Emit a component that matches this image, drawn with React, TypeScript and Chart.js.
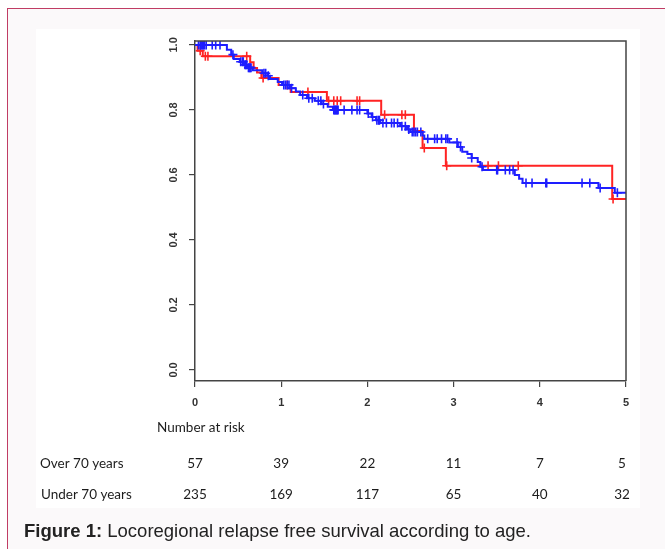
import React, { useEffect, useRef } from "react";
import { Chart, registerables } from "chart.js";

Chart.register(...registerables);

// ---- data ----
const timeTicks = [0, 1, 2, 3, 4, 5];
const survivalTicks = [0, 0.2, 0.4, 0.6, 0.8, 1.0];
const groupLabels = ["Over 70 years", "Under 70 years"];
const riskOver70 = [57, 39, 22, 11, 7, 5];
const riskUnder70 = [235, 169, 117, 65, 40, 32];

// Under 70 years (blue) Kaplan-Meier steps
const under70Times = [
  0, 0.37, 0.42, 0.45, 0.52, 0.57, 0.61, 0.67, 0.78, 0.84, 0.87, 0.96, 1.01, 1.1, 1.17, 1.22,
  1.3, 1.39, 1.47, 1.54, 1.6, 2.0, 2.05, 2.1, 2.15, 2.38, 2.46, 2.5, 2.64, 2.66, 2.95, 3.05,
  3.1, 3.16, 3.21, 3.28, 3.31, 3.34, 3.71, 3.76, 3.8, 4.68, 4.87, 5.0,
];
const under70Surv = [
  1.0, 0.985, 0.97, 0.957, 0.948, 0.939, 0.93, 0.922, 0.913, 0.905, 0.895, 0.886, 0.877, 0.867,
  0.857, 0.846, 0.836, 0.828, 0.818, 0.81, 0.8, 0.789, 0.778, 0.768, 0.76, 0.75, 0.74, 0.732,
  0.721, 0.711, 0.7, 0.686, 0.671, 0.664, 0.652, 0.64, 0.625, 0.615, 0.6, 0.588, 0.575, 0.56,
  0.545, 0.545,
];
const under70Censored = [
  0.04, 0.06, 0.07, 0.08, 0.09, 0.1, 0.11, 0.13, 0.2, 0.24, 0.29, 0.44, 0.53, 0.55, 0.56, 0.58,
  0.59, 0.6, 0.62, 0.63, 0.64, 0.65, 0.8, 0.82, 0.85, 1.03, 1.05, 1.07, 1.09, 1.12, 1.25, 1.32,
  1.36, 1.43, 1.46, 1.49, 1.61, 1.62, 1.63, 1.64, 1.65, 1.66, 1.73, 1.82, 1.88, 1.91, 2.01, 2.06,
  2.11, 2.13, 2.14, 2.18, 2.22, 2.28, 2.31, 2.35, 2.4, 2.44, 2.48, 2.52, 2.54, 2.56, 2.58, 2.62,
  2.7, 2.78, 2.81, 2.86, 2.91, 2.93, 3.04, 3.08, 3.21, 3.33, 3.5, 3.51, 3.6, 3.65, 3.69, 3.84,
  3.91, 4.07, 4.08, 4.49, 4.58, 4.7, 4.9,
];

// Over 70 years (red) Kaplan-Meier steps
const over70Times = [
  0, 0.03, 0.09, 0.64, 0.68, 0.72, 0.77, 0.97, 1.11, 1.53, 2.16, 2.54, 2.64, 2.91, 4.84, 5.0,
];
const over70Surv = [
  1.0, 0.982, 0.965, 0.947, 0.929, 0.915, 0.898, 0.877, 0.855, 0.828, 0.785, 0.735, 0.683, 0.628,
  0.526, 0.526,
];
const over70Censored = [
  0.06, 0.12, 0.15, 0.6, 0.79, 1.07, 1.31, 1.55, 1.61, 1.65, 1.69, 1.88, 1.91, 2.2, 2.4, 2.44,
  2.66, 2.92, 3.4, 3.52, 3.75, 4.85,
];

const BLUE = "rgb(30,30,255)";
const RED = "rgb(255,35,35)";

function survivalAt(times: number[], surv: number[], t: number) {
  let s = surv[0];
  for (let i = 0; i < times.length; i++) if (times[i] <= t) s = surv[i];
  return s;
}

export default function App() {
  const ref = useRef<HTMLCanvasElement>(null);

  useEffect(() => {
    const canvas = ref.current!;
    const textPlugin = {
      id: "kmText",
      afterDraw(chart: any) {
        const { ctx, chartArea, scales } = chart;
        const xs = scales.x;
        const ys = scales.y;
        ctx.save();
        // box (top & right)
        ctx.strokeStyle = "#444";
        ctx.lineWidth = 1.5;
        ctx.beginPath();
        ctx.moveTo(chartArea.left, chartArea.top);
        ctx.lineTo(chartArea.right, chartArea.top);
        ctx.lineTo(chartArea.right, chartArea.bottom);
        ctx.stroke();

        // rotated y tick labels
        ctx.fillStyle = "#333";
        ctx.font = 'bold 11px "Liberation Sans", Arial, sans-serif';
        ctx.textAlign = "center";
        ctx.textBaseline = "middle";
        survivalTicks.forEach((v) => {
          const py = ys.getPixelForValue(v);
          ctx.save();
          ctx.translate(chartArea.left - 21, py);
          ctx.rotate(-Math.PI / 2);
          ctx.fillText(v.toFixed(1), 0, 0);
          ctx.restore();
        });

        // number at risk table
        ctx.fillStyle = "#1c1c1c";
        ctx.font = '13.5px Lato, "Open Sans", sans-serif';
        ctx.textAlign = "left";
        ctx.fillText("Number at risk", chartArea.left - 38, chartArea.bottom + 47);
        const rowY = [chartArea.bottom + 83, chartArea.bottom + 114];
        ctx.fillText(groupLabels[0], 40, rowY[0]);
        ctx.fillText(groupLabels[1], 41, rowY[1]);
        ctx.textAlign = "center";
        timeTicks.forEach((t, i) => {
          const px = Math.min(xs.getPixelForValue(t), chartArea.right - 4);
          ctx.fillText(String(riskOver70[i]), px, rowY[0]);
          ctx.fillText(String(riskUnder70[i]), px, rowY[1]);
        });
        ctx.restore();
      },
    };

    const chart = new Chart(canvas, {
      type: "scatter",
      data: {
        datasets: [
          {
            label: "Under 70 years",
            data: under70Times.map((t, i) => ({ x: t, y: under70Surv[i] })),
            showLine: true,
            stepped: true,
            borderColor: BLUE,
            backgroundColor: BLUE,
            borderWidth: 2,
            pointRadius: 0,
            pointHoverRadius: 0,
          },
          {
            label: "Under 70 censored",
            data: under70Censored.map((t) => ({ x: t, y: survivalAt(under70Times, under70Surv, t) })),
            showLine: false,
            pointStyle: "cross",
            pointRadius: 4.5,
            pointBorderWidth: 1.6,
            borderColor: BLUE,
            backgroundColor: BLUE,
          },
          {
            label: "Over 70 years",
            data: over70Times.map((t, i) => ({ x: t, y: over70Surv[i] })),
            showLine: true,
            stepped: true,
            borderColor: RED,
            backgroundColor: RED,
            borderWidth: 2,
            pointRadius: 0,
            pointHoverRadius: 0,
          },
          {
            label: "Over 70 censored",
            data: over70Censored.map((t) => ({ x: t, y: survivalAt(over70Times, over70Surv, t) })),
            showLine: false,
            pointStyle: "cross",
            pointRadius: 4.5,
            pointBorderWidth: 1.6,
            borderColor: RED,
            backgroundColor: RED,
          },
        ],
      },
      options: {
        animation: false,
        responsive: false,
        maintainAspectRatio: false,
        layout: { padding: { left: 0, top: 41, right: 39, bottom: 0 } },
        plugins: { legend: { display: false }, tooltip: { enabled: false } },
        scales: {
          x: {
            type: "linear",
            min: 0,
            max: 5,
            afterBuildTicks: (s: any) => {
              s.ticks = timeTicks.map((v) => ({ value: v }));
            },
            afterFit: (s: any) => {
              s.height = 168;
            },
            grid: {
              drawOnChartArea: false,
              drawTicks: true,
              tickLength: 6,
              color: "#444",
              tickColor: "#444",
              lineWidth: 1.2,
            },
            border: { display: true, color: "#444", width: 1.5 },
            ticks: {
              color: "#333",
              padding: 9,
              maxRotation: 0,
              font: { family: '"Liberation Sans", Arial, sans-serif', size: 11, weight: "bold" },
              callback: (v: any) => String(v),
            },
          },
          y: {
            type: "linear",
            min: -0.034,
            max: 1.012,
            afterBuildTicks: (s: any) => {
              s.ticks = survivalTicks.map((v) => ({ value: v }));
            },
            afterFit: (s: any) => {
              s.width = 195;
            },
            grid: {
              drawOnChartArea: false,
              drawTicks: true,
              tickLength: 6,
              color: "#444",
              tickColor: "#444",
              lineWidth: 1.2,
            },
            border: { display: true, color: "#444", width: 1.5 },
            ticks: { display: false },
          },
        },
      },
      plugins: [textPlugin],
    } as any);

    return () => chart.destroy();
  }, []);

  return (
    <div
      style={{
        position: "fixed",
        left: 0,
        top: 0,
        width: 665,
        height: 549,
        overflow: "hidden",
        background: "#ffffff",
      }}
    >
      <div
        style={{
          position: "absolute",
          left: 7,
          top: 8,
          width: 720,
          height: 620,
          border: "1px solid #c03c64",
          background: "#fbf9fa",
        }}
      />
      <div
        style={{
          position: "absolute",
          left: 36,
          top: 29,
          width: 604,
          height: 479,
          background: "#ffffff",
        }}
      />
      <canvas
        ref={ref}
        width={665}
        height={549}
        style={{ position: "absolute", left: 0, top: 0, width: 665, height: 549 }}
      />
      <div
        style={{
          position: "absolute",
          left: 24,
          top: 520,
          fontFamily: '"Liberation Sans", Arial, sans-serif',
          fontSize: 18.5,
          color: "#222",
          whiteSpace: "nowrap",
          lineHeight: "22px",
        }}
      >
        <b>Figure 1:</b> Locoregional relapse free survival according to age.
      </div>
    </div>
  );
}
